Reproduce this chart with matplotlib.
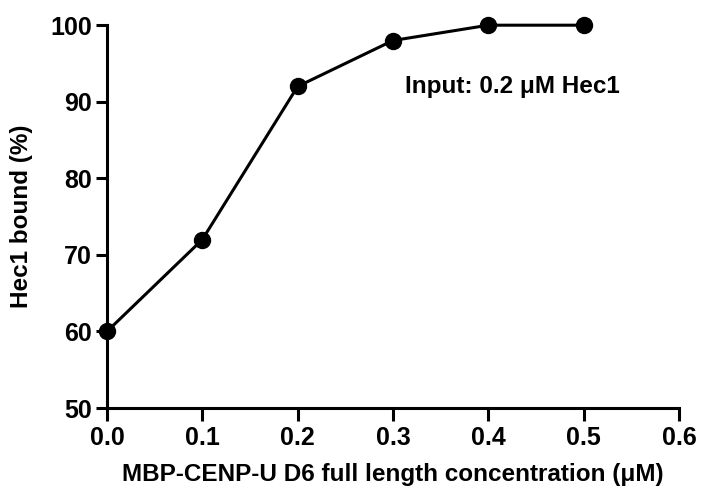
import matplotlib
matplotlib.use('Agg')
import matplotlib.pyplot as plt

conc = [0.0, 0.1, 0.2, 0.3, 0.4, 0.5]
bound = [60, 72, 92, 98, 100, 100]
x_ticks = [0.0, 0.1, 0.2, 0.3, 0.4, 0.5, 0.6]
y_ticks = [50, 60, 70, 80, 90, 100]

plt.rcParams['font.family'] = ['Liberation Sans', 'DejaVu Sans']
plt.rcParams['font.weight'] = 'bold'

fig = plt.figure(figsize=(7.01, 4.94), dpi=100)
ax = fig.add_axes([0.1526, 0.174, 0.816, 0.775])

ax.plot(conc, bound, color='black', linewidth=2.2, marker='o',
        markersize=11.5, clip_on=False, zorder=3)

ax.set_xlim(0, 0.6)
ax.set_ylim(50, 100)
ax.set_xticks(x_ticks)
ax.set_xticklabels(['%.1f' % v for v in x_ticks])
ax.set_yticks(y_ticks)

for side in ['top', 'right']:
    ax.spines[side].set_visible(False)
for side in ['left', 'bottom']:
    ax.spines[side].set_linewidth(2.2)

ax.tick_params(axis='x', direction='out', length=9, width=2.2,
               labelsize=18, pad=4)
ax.tick_params(axis='y', direction='out', length=8, width=2.2,
               labelsize=18, pad=3)
for lab in ax.get_xticklabels() + ax.get_yticklabels():
    lab.set_fontweight('bold')

ax.set_xlabel('MBP-CENP-U D6 full length concentration (\u03bcM)',
              fontsize=17.5, fontweight='bold', labelpad=9)
ax.set_ylabel('Hec1 bound (%)', fontsize=17.5, fontweight='bold', labelpad=12)

ax.text(0.3125, 92, 'Input: 0.2 \u03bcM Hec1', fontsize=17.5, fontweight='bold',
        va='center', transform=ax.transData)

fig.savefig('out.png', dpi=100)
